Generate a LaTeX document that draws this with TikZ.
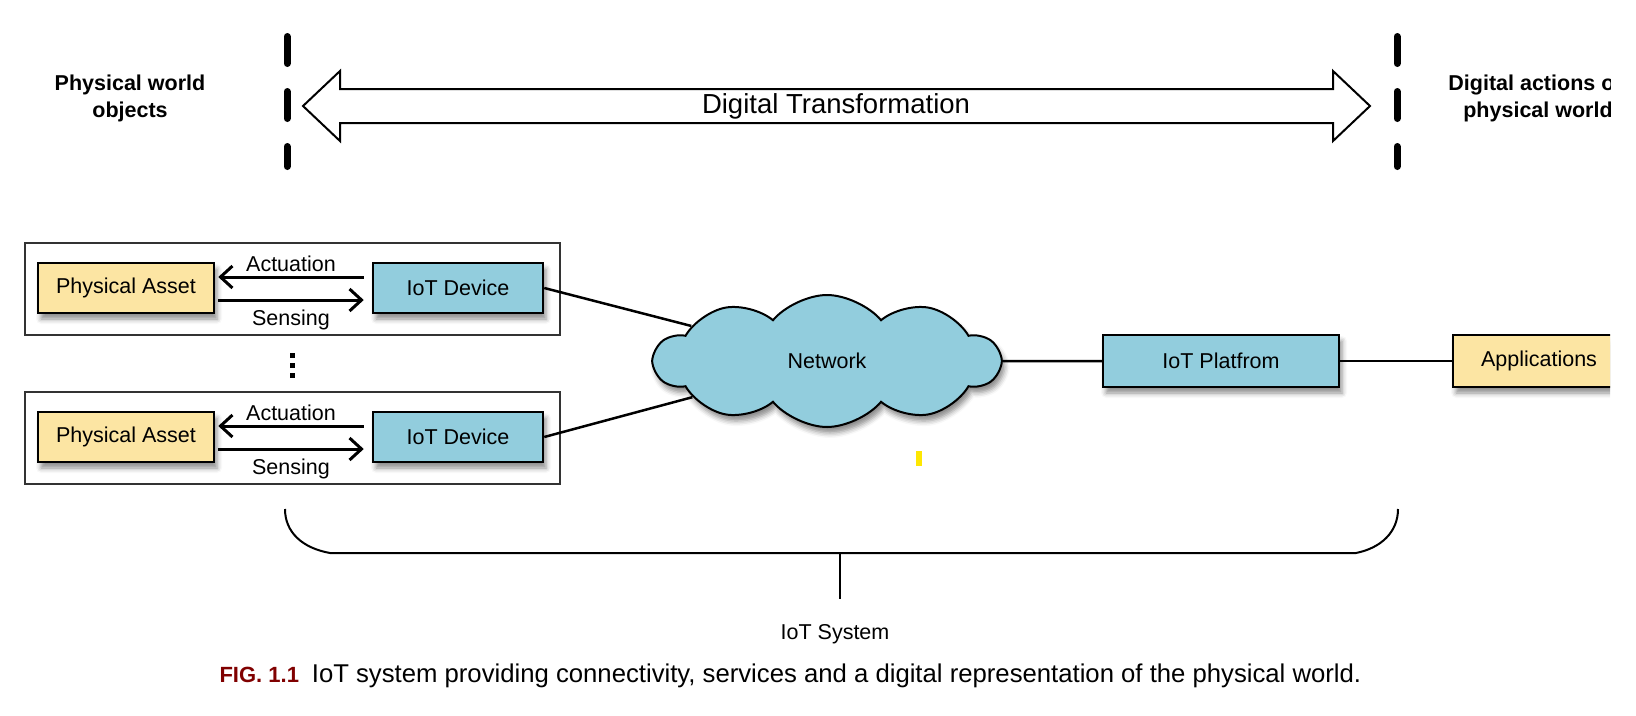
\documentclass[tikz,border=0pt]{standalone}
\usepackage{fontspec}
\setmainfont{Liberation Sans}
\usetikzlibrary{shapes.symbols,arrows.meta,shadows.blur,positioning}
\definecolor{assetyellow}{RGB}{252,229,163}
\definecolor{iotblue}{RGB}{146,205,221}
\definecolor{figred}{RGB}{128,0,0}
\tikzset{
  txt/.style={font=\fontsize{21.5}{26}\selectfont},
  head/.style={font=\bfseries\fontsize{21.5}{27}\selectfont, align=center},
  box/.style={draw, line width=2.5pt, minimum height=50pt, inner sep=0pt, txt,
    blur shadow={shadow xshift=3pt, shadow yshift=-6pt, shadow blur radius=5pt, shadow opacity=45}},
  asset/.style={box, fill=assetyellow, minimum width=176pt},
  device/.style={box, fill=iotblue, minimum width=170pt},
  frame/.style={draw=black!80, line width=1.3pt},
  flow/.style={line width=3pt, -{Straight Barb[length=12pt,width=22pt]}},
  link/.style={line width=2.5pt},
  sep/.style={line width=7pt, line cap=round, dash pattern=on 27pt off 28pt}
}
\begin{document}
\begin{tikzpicture}[x=1pt, y=-1pt]
\useasboundingbox (0,0) rectangle (1636,715);
\begin{scope}
\clip (0,0) rectangle (1610,715);
% headings
\node[head] (phys) at (130,98) {Physical world\\objects};
\node[head] (digi) at (1538,98) {Digital actions on\\physical world};
% separators
\draw[sep] (287,36.5) -- (287,166.5);
\draw[sep] (1397,36.5) -- (1397,166.5);
% transformation arrow
\draw[line width=2pt, fill=white] (303,106) -- (340,71) -- (340,89) -- (1333,89) -- (1333,71)
  -- (1370,106) -- (1333,141) -- (1333,123) -- (340,123) -- (340,141) -- cycle;
\node[font=\fontsize{27.5}{32}\selectfont] (trans) at (836,106) {Digital Transformation};
% device groups
\draw[frame] (25,243) rectangle (560,335);
\draw[frame] (25,392) rectangle (560,484);
\node[asset] (asset1) at (126,288) {Physical Asset};
\node[device] (dev1) at (458,288) {IoT Device};
\node[asset] (asset2) at (126,437) {Physical Asset};
\node[device] (dev2) at (458,437) {IoT Device};
\draw[flow] ([xshift=-8pt,yshift=11pt]dev1.west) -- ([xshift=3pt,yshift=11pt]asset1.east)
  node[midway, above=0pt, txt] (act1) {Actuation};
\draw[flow] ([xshift=3pt,yshift=-12pt]asset1.east) -- ([xshift=-8pt,yshift=-12pt]dev1.west)
  node[midway, below=5pt, txt] (sen1) {Sensing};
\draw[flow] ([xshift=-8pt,yshift=11pt]dev2.west) -- ([xshift=3pt,yshift=11pt]asset2.east)
  node[midway, above=0pt, txt] (act2) {Actuation};
\draw[flow] ([xshift=3pt,yshift=-12pt]asset2.east) -- ([xshift=-8pt,yshift=-12pt]dev2.west)
  node[midway, below=5pt, txt] (sen2) {Sensing};
\foreach \y in {355,365,375}
  \fill (289.5,\y-2.5) rectangle (294.5,\y+2.5);
% network side
\node[cloud, draw, fill=iotblue, line width=2pt, cloud puffs=10, cloud puff arc=100, aspect=2.65,
  shape border rotate=18, minimum width=345pt, minimum height=132pt, inner sep=0pt, txt,
  blur shadow={shadow xshift=3pt, shadow yshift=-6pt, shadow blur radius=5pt, shadow opacity=45}]
  (net) at (827,361) {Network};
\node[device, minimum width=236pt, minimum height=52pt] (plat) at (1221,361) {IoT Platfrom};
\node[asset, minimum width=172pt, minimum height=52pt] (apps) at (1539,361) {Applications};
\path[link]
  (dev1.east) edge (net)
  (dev2.east) edge (net)
  (net) edge (plat)
  (plat) edge (apps);
\fill[yellow!90!orange] (916,451) rectangle (922,466);
% system brace
\coordinate (bracemid) at (840,553);
\coordinate (stemend) at (840,599);
\draw[line width=2pt] (285,509) .. controls (285,532) and (302,548) .. (330,553) -- (1356,553)
  .. controls (1381,548) and (1398,532) .. (1398,509);
\draw[line width=1.5pt] (bracemid) -- (stemend);
\node[txt] (sys) at (835,634) {IoT System};
\node[txt, anchor=west, font=\fontsize{25.7}{30}\selectfont] (cap) at (216,676)
  {\textcolor{figred}{\bfseries\fontsize{22}{26}\selectfont FIG. 1.1}\hspace{0.5em}IoT system providing connectivity, services and a digital representation of the physical world.};
\end{scope}
\end{tikzpicture}
\end{document}
